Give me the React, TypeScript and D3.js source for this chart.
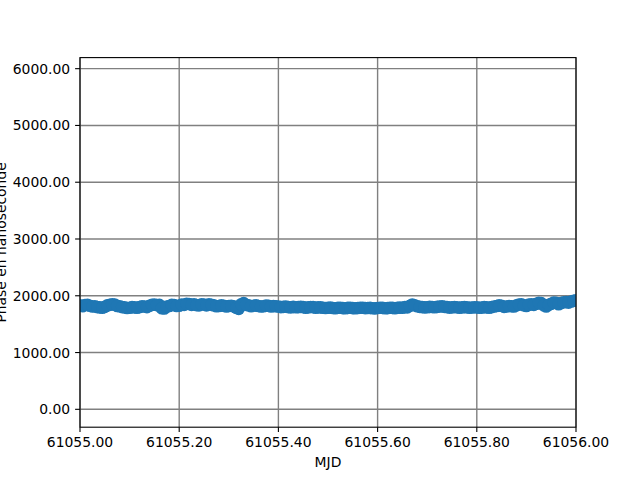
import React from "react";
import * as d3 from "d3";

const X_START = 61055.0;
const X_STEP = 0.01;
const phaseValues: number[] = [
  1830, 1835, 1825, 1815, 1795, 1805, 1840, 1845, 1815, 1795,
  1790, 1795, 1800, 1810, 1825, 1845, 1840, 1775, 1820, 1835,
  1825, 1840, 1855, 1850, 1830, 1845, 1850, 1830, 1820, 1825,
  1820, 1815, 1770, 1870, 1830, 1825, 1820, 1815, 1825, 1820,
  1810, 1805, 1800, 1805, 1800, 1800, 1795, 1800, 1795, 1790,
  1790, 1785, 1788, 1783, 1786, 1782, 1785, 1788, 1784, 1781,
  1785, 1787, 1783, 1786, 1790, 1788, 1795, 1845, 1815, 1800,
  1798, 1802, 1805, 1815, 1800, 1796, 1799, 1795, 1797, 1793,
  1795, 1792, 1796, 1800, 1820, 1825, 1810, 1815, 1830, 1850,
  1820, 1850, 1860, 1870, 1810, 1860, 1875, 1870, 1890, 1900,
  1920,
];
// secondary interleaved samples (at +0.005 d) giving the band its wobble
const phaseValuesB: number[] = [
  1815, 1840, 1810, 1800, 1790, 1830, 1850, 1820, 1800, 1785,
  1800, 1790, 1815, 1800, 1840, 1835, 1780, 1810, 1840, 1820,
  1845, 1860, 1840, 1835, 1850, 1830, 1840, 1815, 1830, 1810,
  1825, 1790, 1850, 1840, 1815, 1830, 1810, 1828, 1812, 1815,
  1800, 1810, 1795, 1798, 1805, 1790, 1802, 1790, 1796, 1784,
  1792, 1780, 1790, 1779, 1788, 1780, 1790, 1782, 1786, 1778,
  1790, 1781, 1788, 1780, 1792, 1800, 1825, 1830, 1805, 1795,
  1805, 1798, 1812, 1805, 1792, 1803, 1790, 1800, 1788, 1797,
  1788, 1800, 1790, 1812, 1830, 1805, 1820, 1810, 1845, 1830,
  1845, 1840, 1875, 1830, 1840, 1880, 1850, 1885, 1880, 1910,
];
const mjdValues: number[] = phaseValues.map((_, i) => X_START + i * X_STEP);
const mjdValuesB: number[] = phaseValuesB.map((_, i) => X_START + (i + 0.5) * X_STEP);

const xTicks: number[] = [61055.0, 61055.2, 61055.4, 61055.6, 61055.8, 61056.0];
const yTicks: number[] = [0, 1000, 2000, 3000, 4000, 5000, 6000];
const xLabel = "MJD";
const yLabel = "Phase en nanoseconde";

export default function App() {
  const W = 640, H = 480;
  const left = 80, right = 576, top = 57.6, bottom = 427.2;
  const x = d3.scaleLinear().domain([61055.0, 61056.0]).range([left, right]);
  const y = d3.scaleLinear().domain([-315, 6195]).range([bottom, top]);
  const font = "'DejaVu Sans', sans-serif";
  const fs = 13.9;
  const gridColor = "#808080";
  return (
    <svg width={W} height={H} style={{ position: "absolute", left: 0, top: 0, background: "#fff" }}>
      <defs>
        <clipPath id="plotclip">
          <rect x={left} y={top} width={right - left} height={bottom - top} />
        </clipPath>
      </defs>
      <rect x={0} y={0} width={W} height={H} fill="#fff" />
      {xTicks.map((t) => (
        <line key={"gx" + t} x1={x(t)} x2={x(t)} y1={top} y2={bottom} stroke={gridColor} strokeWidth={1.4} />
      ))}
      {yTicks.map((t) => (
        <line key={"gy" + t} x1={left} x2={right} y1={y(t)} y2={y(t)} stroke={gridColor} strokeWidth={1.4} />
      ))}
      <g clipPath="url(#plotclip)">
        {phaseValues.map((v, i) => (
          <circle key={"a" + i} cx={x(mjdValues[i])} cy={y(v)} r={6.3} fill="#1f77b4" />
        ))}
        {phaseValuesB.map((v, i) => (
          <circle key={"b" + i} cx={x(mjdValuesB[i])} cy={y(v)} r={6.3} fill="#1f77b4" />
        ))}
      </g>
      <rect x={left} y={top} width={right - left} height={bottom - top} fill="none" stroke="#000" strokeWidth={1.1} />
      {xTicks.map((t) => (
        <g key={"tx" + t}>
          <line x1={x(t)} x2={x(t)} y1={bottom} y2={bottom + 4.9} stroke="#000" strokeWidth={1.1} />
          <text x={x(t)} y={447} textAnchor="middle" fontFamily={font} fontSize={fs} fill="#000">
            {t.toFixed(2)}
          </text>
        </g>
      ))}
      {yTicks.map((t) => (
        <g key={"ty" + t}>
          <line x1={left - 4.9} x2={left} y1={y(t)} y2={y(t)} stroke="#000" strokeWidth={1.1} />
          <text x={70.2} y={y(t) + 5} textAnchor="end" fontFamily={font} fontSize={fs} fill="#000">
            {t.toFixed(2)}
          </text>
        </g>
      ))}
      <text x={(left + right) / 2} y={467} textAnchor="middle" fontFamily={font} fontSize={fs} fill="#000">
        {xLabel}
      </text>
      <text
        transform={`translate(6, ${(top + bottom) / 2}) rotate(-90)`}
        textAnchor="middle"
        fontFamily={font}
        fontSize={fs}
        fill="#000"
      >
        {yLabel}
      </text>
    </svg>
  );
}
